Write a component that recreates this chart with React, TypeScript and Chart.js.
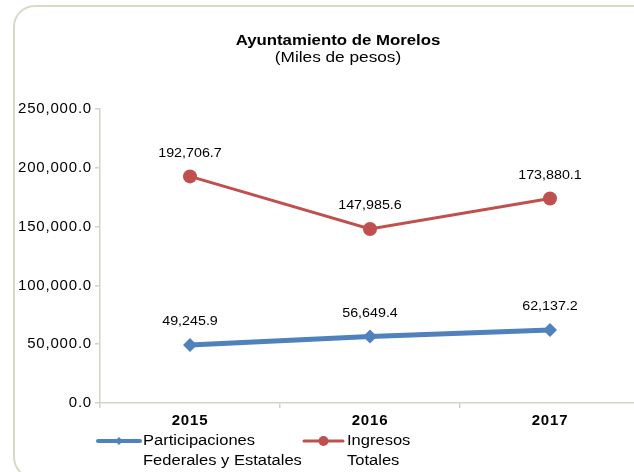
import React, { useEffect, useRef } from "react";
import { Chart, registerables } from "chart.js";

Chart.register(...registerables);

const categories = ["2015", "2016", "2017"];
const participaciones = [49245.9, 56649.4, 62137.2];
const ingresos = [192706.7, 147985.6, 173880.1];
const yTicks = [0, 50000, 100000, 150000, 200000, 250000];
const seriesNames = [["Participaciones", "Federales y Estatales"], ["Ingresos", "Totales"]];
const titleText = "Ayuntamiento de Morelos";
const subtitleText = "(Miles de pesos)";

const FONT = "'Liberation Sans', Arial, sans-serif";
const BLUE = "#4F81BD";
const RED = "#C0504D";
const AXIS = "#d3d3c3";

const fmt = (v: number) =>
  v.toLocaleString("en-US", { minimumFractionDigits: 1, maximumFractionDigits: 1 });

function stretchText(ctx: any, text: string, x: number, y: number, sx: number, align: string) {
  ctx.save();
  ctx.translate(x, y);
  ctx.scale(sx, 1);
  ctx.textAlign = align;
  ctx.fillText(text, 0, 0);
  ctx.restore();
}

const decorPlugin = {
  id: "decor",
  beforeDraw(chart: any) {
    (chart.ctx as any).letterSpacing = "0.8px";
  },
  afterDatasetsDraw(chart: any) {
    const ctx = chart.ctx;
    ctx.save();
    (ctx as any).letterSpacing = "0px";
    ctx.fillStyle = "#000";
    ctx.font = `12px ${FONT}`;
    ctx.textBaseline = "middle";
    chart.data.datasets.forEach((ds: any, i: number) => {
      const meta = chart.getDatasetMeta(i);
      meta.data.forEach((pt: any, j: number) => {
        stretchText(ctx, fmt(ds.data[j]), pt.x, pt.y - 23, 1.19, "center");
      });
    });
    ctx.restore();
  },
  afterDraw(chart: any) {
    const ctx = chart.ctx;
    ctx.save();
    (ctx as any).letterSpacing = "0px";
    ctx.fillStyle = "#000";
    ctx.textBaseline = "middle";
    ctx.font = `bold 14px ${FONT}`;
    stretchText(ctx, titleText, 325, 36, 1.2, "center");
    ctx.font = `14px ${FONT}`;
    stretchText(ctx, subtitleText, 325, 53, 1.23, "center");

    // legend
    const items = [
      { x0: 85, x1: 127, color: BLUE, lw: 4, marker: "diamond", tx: 130 },
      { x0: 291, x1: 330, color: RED, lw: 3, marker: "circle", tx: 334 },
    ];
    const ly = 436;
    items.forEach((it, i) => {
      ctx.strokeStyle = it.color;
      ctx.lineWidth = it.lw;
      ctx.lineCap = "round";
      ctx.beginPath();
      ctx.moveTo(it.x0, ly);
      ctx.lineTo(it.x1, ly);
      ctx.stroke();
      const mx = (it.x0 + it.x1) / 2;
      ctx.fillStyle = it.color;
      ctx.beginPath();
      if (it.marker === "circle") {
        ctx.arc(mx, ly, 5, 0, Math.PI * 2);
      } else {
        ctx.moveTo(mx, ly - 4);
        ctx.lineTo(mx + 4, ly);
        ctx.lineTo(mx, ly + 4);
        ctx.lineTo(mx - 4, ly);
        ctx.closePath();
      }
      ctx.fill();
      ctx.fillStyle = "#000";
      ctx.font = `14px ${FONT}`;
      stretchText(ctx, seriesNames[i][0], it.tx, ly, 1.18, "left");
      stretchText(ctx, seriesNames[i][1], it.tx, ly + 20, 1.18, "left");
    });
    ctx.restore();
  },
};

export default function App() {
  const ref = useRef<HTMLCanvasElement | null>(null);
  useEffect(() => {
    document.body.style.margin = "0";
    if (!ref.current) return;
    const chart = new Chart(ref.current, {
      type: "line",
      data: {
        labels: categories,
        datasets: [
          {
            label: seriesNames[0].join(" "),
            data: participaciones,
            borderColor: BLUE,
            backgroundColor: BLUE,
            borderWidth: 5,
            pointStyle: "rectRot",
            pointRadius: 7,
            pointBorderWidth: 0,
            tension: 0,
          },
          {
            label: seriesNames[1].join(" "),
            data: ingresos,
            borderColor: RED,
            backgroundColor: RED,
            borderWidth: 3,
            pointStyle: "circle",
            pointRadius: 7,
            pointBorderWidth: 0,
            tension: 0,
          },
        ],
      },
      options: {
        responsive: false,
        animation: false,
        layout: { padding: { left: 0, right: 23, top: 104, bottom: 38 } },
        plugins: {
          legend: { display: false },
          title: { display: false },
          tooltip: { enabled: false },
        },
        scales: {
          x: {
            offset: true,
            grid: { offset: true, drawOnChartArea: false, drawTicks: true, tickLength: 5, color: AXIS, lineWidth: 1.5 },
            border: { color: AXIS, width: 1.5 },
            ticks: { color: "#000", font: { family: FONT, size: 15, weight: "bold" }, padding: 4 },
            afterFit: (s: any) => { s.height = 30; },
          },
          y: {
            min: 0,
            max: 250000,
            afterBuildTicks: (s: any) => { s.ticks = yTicks.map((v) => ({ value: v })); },
            grid: { drawOnChartArea: false, drawTicks: true, tickLength: 5, color: AXIS, lineWidth: 1.5 },
            border: { color: AXIS, width: 1.5 },
            ticks: { color: "#000", font: { family: FONT, size: 15 }, padding: 3, callback: (v: any) => fmt(Number(v)) },
            afterFit: (s: any) => { s.width = 87; },
          },
        },
      },
      plugins: [decorPlugin],
    });
    return () => chart.destroy();
  }, []);

  return (
    <div style={{ position: "fixed", left: 0, top: 0, width: 634, height: 472, overflow: "hidden", background: "#fff" }}>
      <div
        style={{
          position: "absolute",
          left: 13,
          top: 5,
          width: 700,
          height: 474,
          border: "2px solid #d9d9c8",
          borderRadius: 22,
          boxSizing: "border-box",
        }}
      />
      <canvas ref={ref} width={650} height={466} style={{ position: "absolute", left: 13, top: 5, width: 650, height: 466 }} />
    </div>
  );
}
